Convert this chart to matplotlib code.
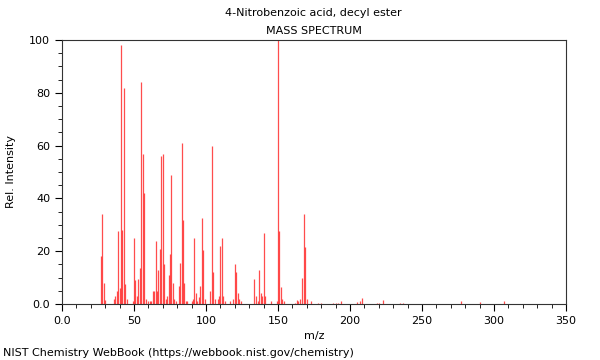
import matplotlib
matplotlib.use("Agg")
import matplotlib.pyplot as plt
from matplotlib.ticker import MultipleLocator

title = "4-Nitrobenzoic acid, decyl ester"
footer = "NIST Chemistry WebBook (https://webbook.nist.gov/chemistry)"

# m/z and relative intensity
mz = [27, 28, 29, 30, 36, 37, 38, 39, 40, 41, 42, 43, 44, 45,
      49, 50, 51, 52, 53, 54, 55, 56, 57, 58,
      60, 61, 62, 63, 64, 65, 66, 67, 68, 69, 70, 71, 72, 73, 74, 75, 76, 77, 78, 79,
      81, 82, 83, 84, 85, 86, 87, 90, 91, 92, 93, 94, 95, 96, 97, 98, 99,
      103, 104, 105, 106, 108, 109, 110, 111, 112, 113, 117, 119, 120, 121, 122, 123, 124,
      133, 135, 136, 137, 138, 139, 140, 141, 145, 149, 150, 151, 152, 153, 154,
      162, 163, 164, 165, 167, 168, 169, 170, 173, 178, 180, 188, 190, 192, 194,
      205, 207, 208, 219, 220, 223, 235, 237, 277, 290, 307]
intensity = [18, 34, 8, 1.5, 2, 3, 5, 27.5, 6, 98, 28, 82, 7.5, 2,
             1, 25, 9, 3, 9.5, 13.5, 84, 57, 42, 2,
             1, 1, 1, 5, 5, 24, 5, 13, 21, 56, 57, 15, 2, 3, 11, 19, 49, 8, 2, 1,
             7, 15.5, 61, 32, 8, 1, 1, 1, 2, 25, 4, 1, 2.5, 7, 32.5, 20.5, 2,
             5, 60, 12, 2, 2, 3, 22, 25, 3, 1, 1, 2, 15, 12, 4, 2, 1,
             9.5, 3, 1, 13, 4, 3, 27, 3, 1, 1, 100, 27.5, 6.5, 2, 1,
             0.5, 1.5, 1, 2, 10, 34, 21.5, 2, 1, 0.5, 0.5, 0.5, 0.5, 0.5, 1.2,
             0.8, 1, 2.3, 0.5, 0.5, 1.5, 0.5, 0.5, 1, 0.7, 1]

plt.rcParams['font.family'] = ['DejaVu Sans']
plt.rcParams['font.size'] = 8

fig = plt.figure(figsize=(6, 3.6), dpi=100)
ax = fig.add_axes([0.1033, 0.1556, 0.84, 0.7333])

ax.vlines(mz, 0, intensity, colors='#ff2020', linewidth=0.9, alpha=0.8)

ax.set_xlim(0, 350)
ax.set_ylim(0, 100)
ax.xaxis.set_minor_locator(MultipleLocator(10))
ax.yaxis.set_minor_locator(MultipleLocator(5))
ax.set_xticks([0, 50, 100, 150, 200, 250, 300, 350])
ax.set_xticklabels(["0.0", "50", "100", "150", "200", "250", "300", "350"])
ax.set_yticks([0, 20, 40, 60, 80, 100])
ax.set_yticklabels(["0.0", "20", "40", "60", "80", "100"])
ax.tick_params(which='major', direction='out', length=5, width=0.8, labelsize=8)
ax.tick_params(which='minor', direction='out', length=3, width=0.6)
for s in ax.spines.values():
    s.set_linewidth(0.8)
    s.set_color('#333333')

ax.set_xlabel("m/z", fontsize=8)
ax.set_ylabel("Rel. Intensity", fontsize=8)
ax.yaxis.set_label_coords(-0.092, 0.5)
fig.text(0.523, 0.963, title, ha='center', va='center', fontsize=8)
fig.text(0.523, 0.915, "MASS SPECTRUM", ha='center', va='center', fontsize=8)
fig.text(0.005, 0.02, footer, ha='left', va='center', fontsize=8)

fig.savefig("out.png", dpi=100)
